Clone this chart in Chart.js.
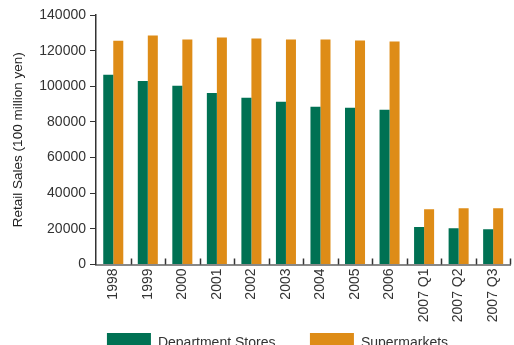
<!DOCTYPE html>
<html>
<head>
<meta charset="utf-8">
<script src="https://cdn.jsdelivr.net/npm/chart.js@4/dist/chart.umd.min.js"></script>
<style>
  html, body { margin: 0; padding: 0; background: #fff; overflow: hidden; }
  #wrap { width: 514px; height: 393px; }
</style>
</head>
<body>
<div id="wrap"><canvas id="chart" width="514" height="393"></canvas></div>
<script>
// Datos del gráfico
const categories = ['1998', '1999', '2000', '2001', '2002', '2003', '2004', '2005', '2006', '2007 Q1', '2007 Q2', '2007 Q3'];
const departmentStores = [106500, 103000, 100300, 96300, 93500, 91300, 88500, 88000, 86800, 21000, 20400, 19800];
const supermarkets = [125500, 128500, 126300, 127400, 126800, 126300, 126300, 125700, 125100, 31000, 31500, 31500];
const yTicks = [0, 20000, 40000, 60000, 80000, 100000, 120000, 140000];

const GREEN = '#007153';
const ORANGE = '#DE8C17';
const FONT = '"Liberation Sans", Arial, sans-serif';

// marcas del eje x hacia arriba, entre categorías
const innerTicks = {
    id: 'innerTicks',
    afterDatasetsDraw(chart) {
        const x = chart.scales.x;
        const ctx = chart.ctx;
        const bottom = chart.chartArea.bottom;
        ctx.save();
        ctx.strokeStyle = '#333';
        ctx.lineWidth = 1.5;
        for (let i = 1; i <= categories.length; i++) {
            const px = Math.round(x.getPixelForValue(i - 0.5)) + 0.5;
            ctx.beginPath();
            ctx.moveTo(px, bottom);
            ctx.lineTo(px, bottom - 6);
            ctx.stroke();
        }
        ctx.restore();
    }
};

// mover la leyenda: un poco a la derecha y arriba, pegada a las etiquetas
const legendShift = {
    id: 'legendShift',
    afterLayout(chart) {
        const lg = chart.legend;
        if (lg) {
            lg.left += 21;
            lg.right += 21;
            lg.top -= 30;
            lg.bottom -= 30;
        }
    }
};

new Chart(document.getElementById('chart').getContext('2d'), {
    type: 'bar',
    data: {
        labels: categories,
        datasets: [{
            label: 'Department Stores',
            data: departmentStores,
            backgroundColor: GREEN,
            borderWidth: 0,
            categoryPercentage: 0.58,
            barPercentage: 1.0
        }, {
            label: 'Supermarkets',
            data: supermarkets,
            backgroundColor: ORANGE,
            borderWidth: 0,
            categoryPercentage: 0.58,
            barPercentage: 1.0
        }]
    },
    options: {
        responsive: false,
        animation: false,
        layout: { padding: { top: 15, right: 1, left: 0, bottom: 0 } },
        plugins: {
            tooltip: { enabled: false },
            legend: {
                position: 'bottom',
                labels: {
                    boxWidth: 44,
                    boxHeight: 20,
                    padding: 34.5,
                    color: '#333',
                    font: { family: FONT, size: 14 }
                }
            }
        },
        scales: {
            x: {
                grid: { display: false, drawTicks: false },
                border: { display: true, color: '#888', width: 2 },
                ticks: {
                    color: '#333',
                    font: { family: FONT, size: 14 },
                    minRotation: 90,
                    maxRotation: 90,
                    padding: 4,
                    autoSkip: false
                },
                afterFit: s => { s.height = 64; }
            },
            y: {
                min: 0,
                max: 140000,
                afterBuildTicks: s => { s.ticks = yTicks.map(v => ({ value: v })); },
                grid: { drawOnChartArea: false, drawTicks: true, tickLength: 6, color: '#333', tickColor: '#333' },
                border: { display: true, color: '#333', width: 1.5 },
                ticks: {
                    color: '#333',
                    font: { family: FONT, size: 14 },
                    padding: 4,
                    callback: v => String(v)
                },
                title: {
                    display: true,
                    text: 'Retail Sales (100 million yen)',
                    color: '#222',
                    font: { family: FONT, size: 13.5 },
                    padding: { top: 10, bottom: 0 }
                },
                afterFit: s => { s.width = 96; }
            }
        }
    },
    plugins: [innerTicks, legendShift]
});
</script>
</body>
</html>
